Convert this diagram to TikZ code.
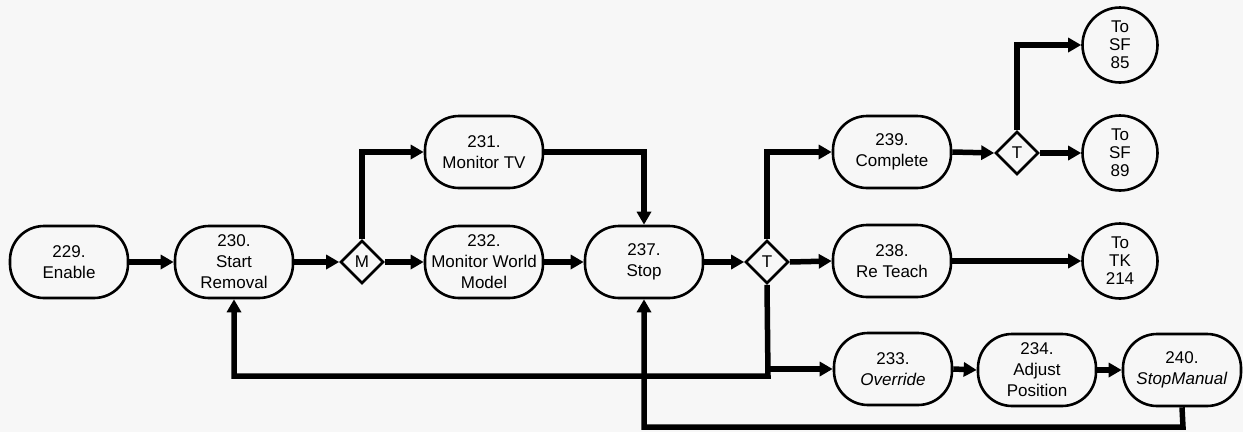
\documentclass[tikz,border=0pt]{standalone}
\usepackage{fontspec}
\setmainfont{Liberation Sans}
\usetikzlibrary{shapes.geometric,arrows.meta}
\begin{document}
\begin{tikzpicture}[x=1pt,y=-1pt,
 box/.style={draw,line width=2.6pt,rectangle,rounded corners=34pt,minimum width=118pt,minimum height=72pt,align=center,inner sep=1pt,font=\fontsize{17}{21}\selectfont},
 dia/.style={draw,line width=2.6pt,diamond,inner sep=0pt,minimum width=43pt,minimum height=43pt,font=\fontsize{17}{18}\selectfont},
 circ/.style={draw,line width=2.6pt,circle,minimum size=75pt,inner sep=0pt,align=center,font=\fontsize{17}{18}\selectfont},
 link/.style={line width=5.5pt,-{Triangle[length=13pt,width=14pt]}},
 plain/.style={line width=5.5pt}]
\fill[white!97!black] (0,0) rectangle (1243,432);
\useasboundingbox (0,0) rectangle (1243,432);

\node[box] (n229) at (69,262) {229.\\Enable};
\node[box] (n230) at (234,262) {230.\\Start\\Removal};
\node[dia] (m) at (362,262) {M};
\node[box] (n231) at (484,152) {231.\\Monitor TV};
\node[box] (n232) at (484,262) {232.\\Monitor World\\Model};
\node[box] (n237) at (644,262) {237.\\Stop};
\node[dia] (t1) at (767,262) {T};
\node[box] (n239) at (892,152) {239.\\Complete};
\node[box] (n238) at (892,261) {238.\\Re Teach};
\node[dia] (t2) at (1017,153) {T};
\node[circ] (c85) at (1120,45) {To\\SF\\85};
\node[circ] (c89) at (1120,153) {To\\SF\\89};
\node[circ] (c214) at (1120,261) {To\\TK\\214};
\node[box] (n233) at (893,369) {233.\\\textit{Override}};
\node[box] (n234) at (1037,370) {234.\\Adjust\\Position};
\node[box] (n240) at (1182,370) {240.\\\textit{StopManual}};

\coordinate (j) at (768,376);
\coordinate (b) at (1183,427);

\draw[link] (n229.east) -- (n230.west);
\draw[link] (n230.east) -- (m.west);
\draw[link] (m.north) |- (n231.west);
\draw[link] (m.east) -- (n232.west);
\draw[link] (n231.east) -| (n237.north);
\draw[link] (n232.east) -- (n237.west);
\draw[link] (n237.east) -- (t1.west);
\draw[link] (t1.north) |- (n239.west);
\draw[link] (t1.east) -- (n238.west);
\draw[link] (n239.east) -- (t2.west);
\draw[link] (t2.north) |- (c85.west);
\draw[link] (t2.east) -- (c89.west);
\draw[link] (n238.east) -- (c214.west);
\draw[link] (t1.south) -- (j) -| (n230.south);
\draw[link] (t1.south |- n233.west) -- (n233.west);
\draw[link] (n233.east) -- (n234.west);
\draw[link] (n234.east) -- (n240.west);
\draw[link] (n240.south) -- (b) -| (n237.south);
\end{tikzpicture}
\end{document}
